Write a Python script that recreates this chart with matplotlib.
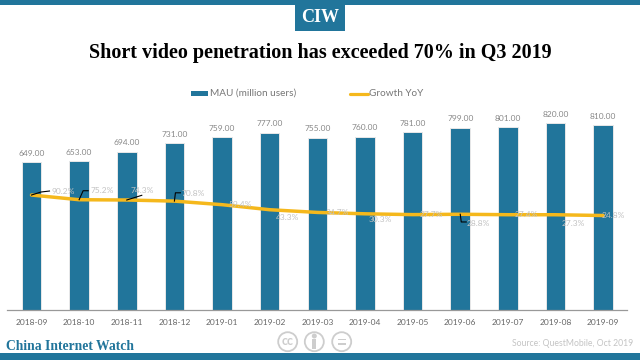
import matplotlib
matplotlib.use("Agg")
import matplotlib.pyplot as plt
from matplotlib.patches import Rectangle, Circle

months = ["2018-09","2018-10","2018-11","2018-12","2019-01","2019-02","2019-03",
          "2019-04","2019-05","2019-06","2019-07","2019-08","2019-09"]
mau = [649,653,694,731,759,777,755,760,781,799,801,820,810]
growth = [90.2,75.2,74.3,70.8,59.4,43.3,34.7,30.3,27.7,28.8,27.4,27.3,24.8]

BLUE = "#21759b"; YEL = "#f5b81c"; W, H = 640, 360
plt.rcParams["font.family"] = ["Lato", "DejaVu Sans"]
fig = plt.figure(figsize=(6.4,3.6), dpi=100, facecolor="white")

def fx(x): return x/W
def fy(y): return 1-y/H

ax = fig.add_axes([fx(7), fy(310), 620/W, 200/H])
ax.set_xlim(-0.514, 12.50)
ax.set_ylim(0, 200/0.228)
x = list(range(len(months)))
ax.bar(x, mau, width=0.41, color=BLUE, edgecolor="#e8e8e8", linewidth=0.7, zorder=2)
for xi, v in zip(x, mau):
    ax.text(xi, v+39, f"{v:.2f}", ha="center", va="center", fontsize=6.0, color="#888888", zorder=6)
ax.set_yticks([])
ax.set_xticks(x, months)
ax.tick_params(axis="x", length=0, pad=6.5, labelsize=6.0, labelcolor="#666666")
for s in ["top","left","right"]:
    ax.spines[s].set_visible(False)
ax.spines["bottom"].set_color("#999999"); ax.spines["bottom"].set_linewidth(0.9)
ax.patch.set_alpha(0)

ax2 = ax.twinx()
ax2.set_ylim(-(310-223.3)/0.3135, (223.3-110)/0.3135)
ax2.axis("off")
ax2.plot(x, growth, color=YEL, lw=2.5, solid_capstyle="round", zorder=4)

# label-centre offset from each point, in pixels (right, up)
lab_off = [(31.5,4),(23,9),(15,10),(18.7,7.5),(18.5,0),(18,-8),(19.5,0),
           (15.5,-6),(19,0),(18.5,-9),(18,0),(17.5,-9),(10,0)]
# leader polylines from the point, in pixels
leaders = {0:[(0,0),(9.5,3),(18,4)], 1:[(0,0),(4,9),(9,9)], 2:[(0,0),(15,4.7)],
           3:[(0,0),(1,8.3),(6,8.3)], 9:[(0,0),(1,-7.7),(6,-7.7)]}
for i,(xi,g) in enumerate(zip(x,growth)):
    dx,dy = lab_off[i]
    ax2.annotate(f"{g:.1f}%", (xi,g), xytext=(dx*0.72,dy*0.72), textcoords="offset points",
                 ha="center", va="center", fontsize=6.0, color="#c2c2c2", zorder=6)
    if i in leaders:
        X,Y = ax2.transData.transform((xi,g))
        fig.add_artist(plt.Line2D([(X+a)/W for a,b in leaders[i]], [(Y+b)/H for a,b in leaders[i]],
                                  transform=fig.transFigure, color="black", lw=0.8, zorder=7))

# top & bottom bands, logo
fig.add_artist(Rectangle((0,fy(5)),1,5/H,transform=fig.transFigure,color=BLUE,lw=0))
fig.add_artist(Rectangle((0,0),1,(360-352.7)/H,transform=fig.transFigure,color=BLUE,lw=0))
fig.add_artist(Rectangle((fx(295),fy(30.7)),50/W,30.7/H,transform=fig.transFigure,color=BLUE,lw=0))
fig.text(fx(320),fy(17.2),"CIW",ha="center",va="center",fontsize=13,fontweight="bold",color="white",
         family="Liberation Serif")
fig.text(fx(320.5),fy(53),"Short video penetration has exceeded 70% in Q3 2019",ha="center",va="center",
         fontsize=14.5,fontweight="bold",color="black",family="Liberation Serif")

# legend
fig.add_artist(Rectangle((fx(191),fy(96)),17/W,5/H,transform=fig.transFigure,color=BLUE,lw=0))
fig.text(fx(210),fy(93.5),"MAU (million users)",va="center",fontsize=7.2,color="#777777")
fig.add_artist(plt.Line2D([fx(350),fx(368)],[fy(93.5)]*2,color=YEL,lw=2.3,solid_capstyle="round"))
fig.text(fx(369),fy(93.5),"Growth YoY",va="center",fontsize=7.2,color="#777777")

# footer
fig.text(fx(6),fy(346.5),"China Internet Watch",va="center",fontsize=9.8,fontweight="bold",color=BLUE,
         family="Liberation Serif")
fig.text(fx(633.5),fy(343.3),"Source: QuestMobile, Oct 2019",ha="right",va="center",fontsize=6.25,color="#c4c4c4")

# CC icons
GR = "#cdcdcd"
overlay = fig.add_axes([0,0,1,1]); overlay.set_xlim(0,W); overlay.set_ylim(H,0); overlay.axis("off"); overlay.patch.set_alpha(0)
for cx in (287.7,314.3,341.7):
    overlay.add_patch(Circle((cx,341.7),9.5,fill=False,ec=GR,lw=1.3))
overlay.text(287.7,341.2,"cc",ha="center",va="center",fontsize=9,fontweight="bold",color=GR)
overlay.add_patch(Circle((314.3,336),1.8,color=GR))
overlay.add_patch(Rectangle((312.3,338.7),4,10,color=GR,lw=0))
overlay.add_patch(Rectangle((337.7,338.5),8,1.6,color=GR,lw=0))
overlay.add_patch(Rectangle((337.7,343),8,1.6,color=GR,lw=0))

fig.savefig("out.png", dpi=100, facecolor="white")
